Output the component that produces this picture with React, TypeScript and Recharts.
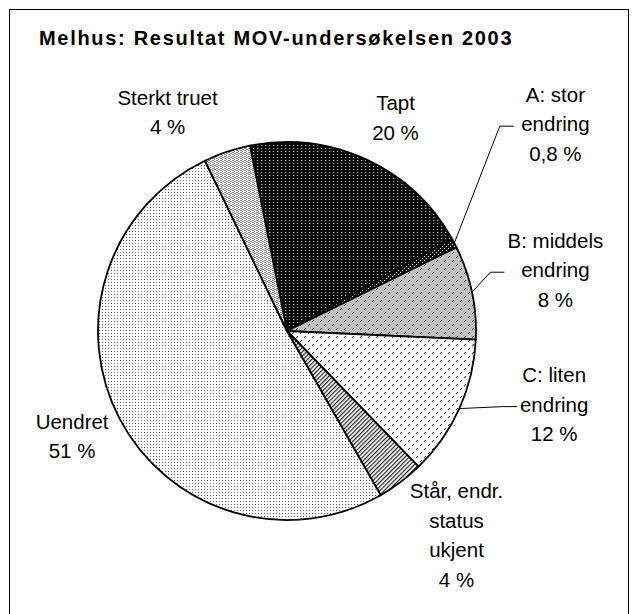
import React from 'react';
import { PieChart, Pie, Cell } from 'recharts';

// slices, clockwise from the top
const categories = [
  'Tapt',
  'A: stor endring',
  'B: middels endring',
  'C: liten endring',
  'Står, endr. status ukjent',
  'Uendret',
  'Sterkt truet',
];
const shares = [20, 0.8, 8, 12, 4, 51, 4];
const shareLabels = ['20 %', '0,8 %', '8 %', '12 %', '4 %', '51 %', '4 %'];
const labelLines = [
  ['Tapt'],
  ['A: stor', 'endring'],
  ['B: middels', 'endring'],
  ['C: liten', 'endring'],
  ['Står, endr.', 'status', 'ukjent'],
  ['Uendret'],
  ['Sterkt truet'],
];

const data = categories.map((name, i) => ({ name, value: shares[i] }));

const FONT = '"Liberation Sans", Arial, sans-serif';
const RAD = Math.PI / 180;
const LINE_H = 29.5;

const fills = [
  'url(#pTapt)',
  'url(#pA)',
  'url(#pB)',
  'url(#pC)',
  'url(#pStar)',
  'url(#pUendret)',
  'url(#pSterkt)',
];

// label placement: distance from centre and clockwise shift from the slice middle
const labelLayout = [
  { r: 246, shift: 1.4 },
  { r: 353, shift: -12.8, leader: { end: -41.6, elbow: 14 } },
  { r: 281, shift: -5.4, leader: { end: -51, elbow: 14 } },
  { r: 272, shift: -13.4, leader: { end: -37, elbow: 14 } },
  { r: 238, shift: -8.5 },
  { r: 236, shift: 3.3 },
  { r: 256, shift: -9.3 },
];

const renderLabel = (props: any) => {
  const { cx, cy, midAngle, outerRadius, index } = props;
  const lay = labelLayout[index];
  const a = (midAngle - lay.shift) * RAD;
  const x = cx + lay.r * Math.cos(a);
  const y = cy - lay.r * Math.sin(a);
  const lines = [...labelLines[index], shareLabels[index]];
  let leader = null;
  if (lay.leader) {
    const m = midAngle * RAD;
    const sx = cx + outerRadius * Math.cos(m);
    const sy = cy - outerRadius * Math.sin(m);
    const ty = y + LINE_H - 5;
    const ex = x + lay.leader.end;
    leader = (
      <polyline
        points={`${sx},${sy} ${ex - lay.leader.elbow},${ty} ${ex},${ty}`}
        fill="none"
        stroke="#000"
        strokeWidth={1}
      />
    );
  }
  return (
    <g key={`lbl-${index}`}>
      {leader}
      <text x={x} y={y} textAnchor="middle" fontFamily={FONT} fontSize={20.5} fill="#000">
        {lines.map((t, i) => (
          <tspan key={i} x={x} dy={i === 0 ? 0 : LINE_H}>
            {t}
          </tspan>
        ))}
      </text>
    </g>
  );
};

export default function App() {
  return (
    <div style={{ position: 'absolute', left: 0, top: 0, width: 635, height: 614, background: '#fff', overflow: 'hidden' }}>
      <div
        style={{
          position: 'absolute',
          left: 9,
          top: 9,
          width: 618,
          height: 640,
          border: '1px solid #000',
        }}
      />
      <div
        style={{
          position: 'absolute',
          left: 39,
          top: 27,
          fontFamily: FONT,
          fontWeight: 'bold',
          fontSize: 20,
          letterSpacing: 1.7,
          lineHeight: '22px',
          whiteSpace: 'nowrap',
          color: '#000',
        }}
      >
        Melhus: Resultat MOV-undersøkelsen 2003
      </div>
      <div style={{ position: 'absolute', left: 0, top: 0 }}>
        <PieChart width={635} height={614}>
          <defs>
            <pattern id="pTapt" width={4} height={3} patternUnits="userSpaceOnUse">
              <rect width={4} height={3} fill="#0a0a0a" />
              <rect x={1} y={1} width={1.3} height={1} fill="#aaa" />
            </pattern>
            <pattern id="pA" width={4} height={4} patternUnits="userSpaceOnUse">
              <rect width={4} height={4} fill="#111" />
              <rect x={0} y={0} width={1} height={1} fill="#ddd" />
              <rect x={2} y={2} width={1} height={1} fill="#ddd" />
            </pattern>
            <pattern id="pB" width={8} height={8} patternUnits="userSpaceOnUse">
              <rect width={8} height={8} fill="#c0c0c0" />
              <rect x={0} y={1} width={1} height={1} fill="#000" />
              <rect x={1} y={0} width={1} height={1} fill="#000" />
              <rect x={4} y={5} width={1} height={1} fill="#000" />
              <rect x={5} y={4} width={1} height={1} fill="#000" />
            </pattern>
            <pattern id="pC" width={8} height={8} patternUnits="userSpaceOnUse">
              <rect width={8} height={8} fill="#fff" />
              <rect x={0} y={1} width={1} height={1} fill="#000" />
              <rect x={1} y={0} width={1} height={1} fill="#000" />
              <rect x={4} y={5} width={1} height={1} fill="#000" />
              <rect x={5} y={4} width={1} height={1} fill="#000" />
            </pattern>
            <pattern id="pStar" width={3} height={3} patternUnits="userSpaceOnUse" patternTransform="rotate(-45)">
              <rect width={3} height={3} fill="#fff" />
              <rect x={0} y={0} width={3} height={1.2} fill="#222" />
            </pattern>
            <pattern id="pUendret" width={3} height={3} patternUnits="userSpaceOnUse">
              <rect width={3} height={3} fill="#fff" />
              <rect x={0} y={0} width={1} height={1} fill="#666" />
            </pattern>
            <pattern id="pSterkt" width={4} height={4} patternUnits="userSpaceOnUse">
              <rect width={4} height={4} fill="#fff" />
              <rect x={0} y={0} width={2} height={1} fill="#888" />
              <rect x={2} y={1} width={2} height={1} fill="#888" />
              <rect x={0} y={2} width={2} height={1} fill="#888" />
              <rect x={2} y={3} width={1} height={1} fill="#888" />
            </pattern>
          </defs>
          <Pie
            data={data}
            dataKey="value"
            nameKey="name"
            cx={282}
            cy={326}
            outerRadius={189}
            startAngle={101.3}
            endAngle={-258.7}
            stroke="#000"
            strokeWidth={1.8}
            label={renderLabel}
            labelLine={false}
            isAnimationActive={false}
          >
            {data.map((d, i) => (
              <Cell key={d.name} fill={fills[i]} />
            ))}
          </Pie>
        </PieChart>
      </div>
    </div>
  );
}
